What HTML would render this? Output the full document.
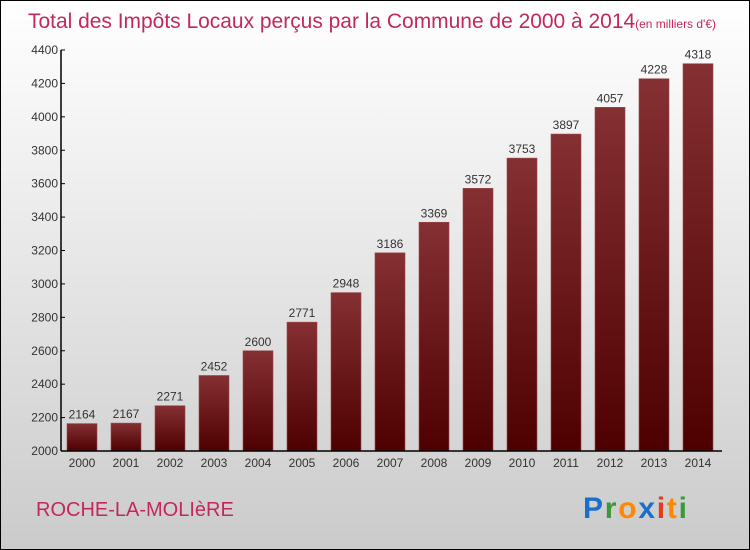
<!DOCTYPE html>
<html><head><meta charset="utf-8"><style>
body{margin:0}
#c{position:relative;width:748px;height:548px;border:1px solid #000;background:linear-gradient(#ffffff,#f0f0f0 30%,#d8d8d8 75%,#cbcbcb);overflow:hidden;font-family:"Liberation Sans",sans-serif}
</style></head><body>
<div id="c">
<svg width="748" height="548">
<defs><linearGradient id="g" x1="0" y1="0" x2="0" y2="1"><stop offset="0" stop-color="#853033"/><stop offset="1" stop-color="#4e0000"/></linearGradient></defs>
<text x="27" y="27" font-size="21" fill="#c2295a" textLength="688" lengthAdjust="spacingAndGlyphs">Total des Impôts Locaux perçus par la Commune de 2000 à 2014<tspan font-size="12">(en milliers d'€)</tspan></text>
<g id="bars"></g><g id="yax"></g><g id="xax"></g>
<text x="35" y="515" font-size="20" fill="#c2295a">ROCHE-LA-MOLIèRE</text>
<text x="582" y="517" font-size="30" font-weight="bold" textLength="104"><tspan fill="#1a6fcc">P</tspan><tspan fill="#3a9a3a">r</tspan><tspan fill="#ff8800">o</tspan><tspan fill="#1a6fcc">x</tspan><tspan fill="#e83a1a">i</tspan><tspan fill="#ff8800">t</tspan><tspan fill="#3a9a3a">i</tspan></text>
</svg></div>
<script>
const years=[2000,2001,2002,2003,2004,2005,2006,2007,2008,2009,2010,2011,2012,2013,2014];
const values=[2164,2167,2271,2452,2600,2771,2948,3186,3369,3572,3753,3897,4057,4228,4318];
const yTicks=[2000,2200,2400,2600,2800,3000,3200,3400,3600,3800,4000,4200,4400];
const NS="http://www.w3.org/2000/svg";
const y=v=>450-(v-2000)*(401/2400);
const x=i=>81+i*44;
function mk(t,a,p){const e=document.createElementNS(NS,t);for(const k in a)e.setAttribute(k,a[k]);p.appendChild(e);return e;}
const B=document.getElementById('bars'),Y=document.getElementById('yax'),X=document.getElementById('xax');
values.forEach((v,i)=>{
 const r=mk('rect',{x:x(i)-15,y:y(v),width:30,height:450-y(v),fill:'url(#g)',stroke:'#9a4a4c','stroke-width':0.6},B);
 
 
 const t=mk('text',{x:x(i),y:y(v)-5,'text-anchor':'middle','font-size':12,fill:'#333'},B);t.textContent=v;
 
 
 const l=mk('text',{x:x(i),y:466,'text-anchor':'middle','font-size':12,fill:'#333'},X);l.textContent=years[i];
 
 
});
const ya=mk('line',{x1:60,y1:y(4400),x2:60,y2:450,stroke:'#000','stroke-width':1.5},Y);


const xa=mk('line',{x1:60,y1:450,x2:721,y2:450,stroke:'#000','stroke-width':1.5},X);


yTicks.forEach(v=>{
 mk('line',{x1:60,x2:64,y1:y(v),y2:y(v),stroke:'#000'},Y);
 const t=mk('text',{x:57,y:y(v)+4,'text-anchor':'end','font-size':12,fill:'#333'},Y);t.textContent=v;
 
 
});
</script>
</body></html>
